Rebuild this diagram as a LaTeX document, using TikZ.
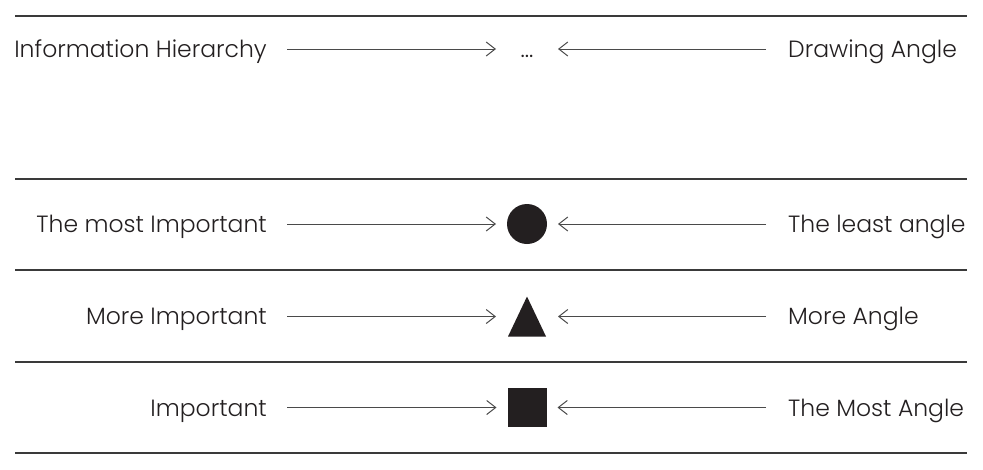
\documentclass[tikz,border=0pt]{standalone}
\usepackage{fontspec}
\setmainfont{Poppins Light}
\usetikzlibrary{arrows.meta}
\definecolor{ink}{HTML}{231F20}
\definecolor{rulec}{HTML}{3A3A3A}
\definecolor{arrc}{HTML}{4A4A4A}
\begin{document}
\begin{tikzpicture}[x=1pt,y=-1pt,
  lbl/.style={inner sep=0pt, font=\fontsize{23.5}{23.5}\selectfont, text=ink},
  ctr/.style={minimum size=40pt, inner sep=0pt, outer sep=0pt},
  arr/.style={draw=arrc, line width=1pt, -{Straight Barb[length=9pt,width=14pt]}},
  larr/.style={arr, shorten <=20pt, shorten >=11pt},
  rarr/.style={arr, shorten <=22pt, shorten >=11pt},
  rulex/.style={draw=rulec, line width=1.2pt}]
\useasboundingbox (0,0) rectangle (983,469);
% rules
\coordinate (a1) at (15,16);  \coordinate (b1) at (967,16);
\coordinate (a2) at (15,179); \coordinate (b2) at (967,179);
\coordinate (a3) at (15,270); \coordinate (b3) at (967,270);
\coordinate (a4) at (15,362); \coordinate (b4) at (967,362);
\coordinate (a5) at (15,453); \coordinate (b5) at (967,453);
\foreach \i in {1,...,5} {\draw[rulex] (a\i) -- (b\i);}
% row 1
\node[lbl, anchor=base east] (L1) at (267,57.5) {Information Hierarchy};
\node[ctr] (C1) at (527,49) {};
\node[lbl, anchor=base] (D1) at (527,57.5) {...};
\node[lbl, anchor=base west] (R1) at (788,57.5) {Drawing Angle};
% row 2
\node[lbl, anchor=base east] (L2) at (267,232.5) {The most Important};
\node[ctr, circle, fill=ink] (C2) at (527,224) {};
\node[lbl, anchor=base west] (R2) at (788,232.5) {The least angle};
% row 3
\node[lbl, anchor=base east] (L3) at (267,324.5) {More Important};
\node[ctr, path picture={\fill[ink] (path picture bounding box.north)
   -- ([xshift=1pt]path picture bounding box.south west)
   -- ([xshift=-1pt]path picture bounding box.south east) -- cycle;}] (C3) at (527,316.5) {};
\node[lbl, anchor=base west] (R3) at (788,324.5) {More Angle};
% row 4
\node[lbl, anchor=base east] (L4) at (267,416.5) {Important};
\node[ctr, minimum size=39pt, fill=ink] (C4) at (527,407.5) {};
\node[lbl, anchor=base west] (R4) at (788,416.5) {The Most Angle};
% arrows
\foreach \i in {1,...,4} {
  \draw[larr] (C\i.west -| L\i.east) -- (C\i.west);
  \draw[rarr] (C\i.east -| R\i.west) -- (C\i.east);
}
\end{tikzpicture}
\end{document}
